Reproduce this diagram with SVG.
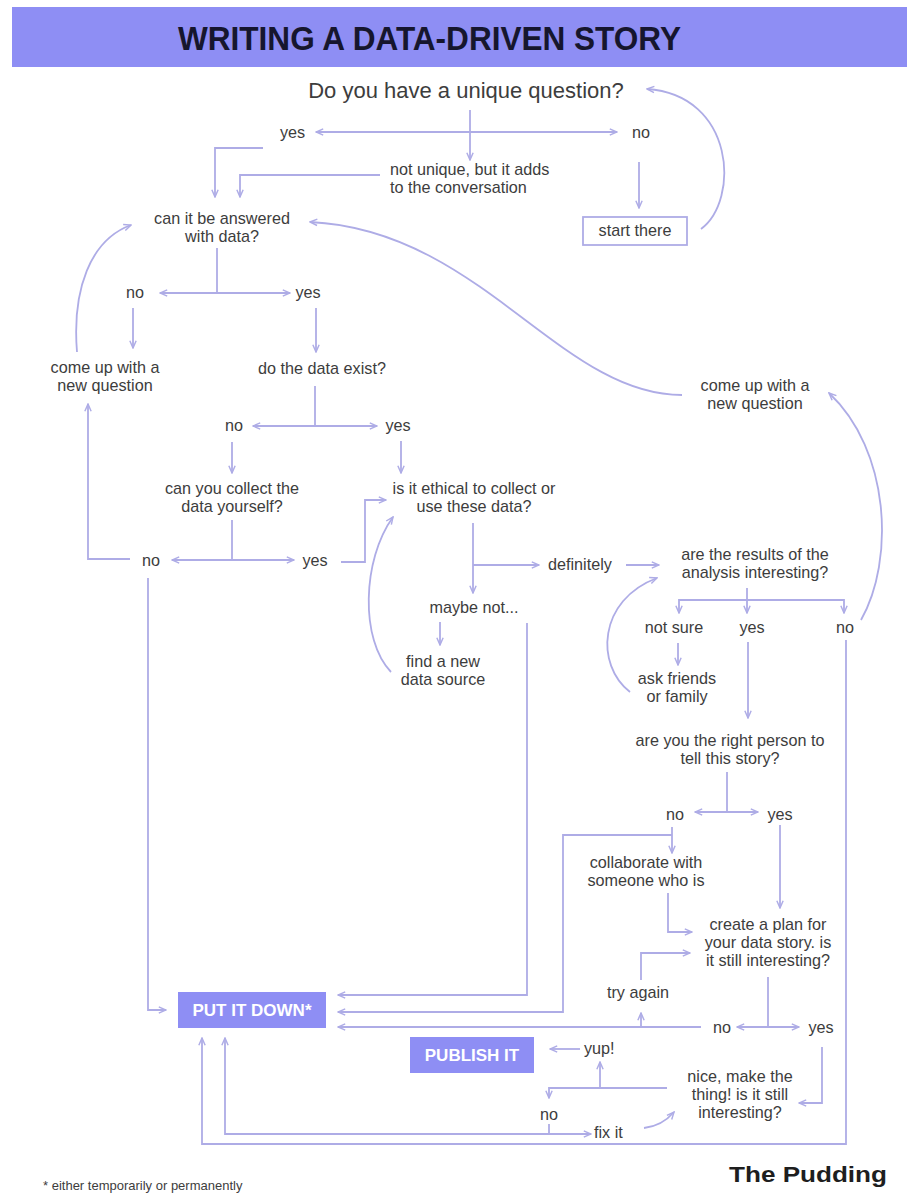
<svg xmlns="http://www.w3.org/2000/svg" width="907" height="1195" viewBox="0 0 907 1195">
<style>
.t{font-family:"Liberation Sans",Arial,sans-serif;font-size:16.2px;fill:#3d3d3d}
.m{text-anchor:middle}
.c path{fill:none;stroke:#aeace6;stroke-width:1.8}
.a{marker-end:url(#ah)}
.b{marker-start:url(#ah);marker-end:url(#ah)}
.box{fill:#8e8ef4}
.bt{font-family:"Liberation Sans",Arial,sans-serif;font-weight:bold;font-size:17px;fill:#ffffff;text-anchor:middle}
</style>
<defs>
<marker id="ah" viewBox="0 0 10 10" refX="9" refY="5" markerWidth="9" markerHeight="9" markerUnits="userSpaceOnUse" orient="auto-start-reverse">
<path d="M1,1.5 L9,5 L1,8.5" fill="none" stroke="#aeace6" stroke-width="1.6"/>
</marker>
</defs>
<rect width="907" height="1195" fill="#ffffff"/>
<g id="header">
<rect x="12" y="7" width="895" height="60" fill="#8e8ef4"/>
<text x="178" y="50" font-family="Liberation Sans,Arial,sans-serif" font-weight="bold" font-size="33" fill="#16162e" textLength="503" lengthAdjust="spacingAndGlyphs">WRITING A DATA-DRIVEN STORY</text>
</g>
<g class="c" id="connectors">
<path class="a" d="M470,110 V160"/>
<path class="b" d="M316,132 H617"/>
<path class="a" d="M639,162 V208"/>
<path class="a" d="M263,148 H215 V197"/>
<path class="a" d="M380,175 H240 V197"/>
<path class="a" d="M701,229 C740,200 735,95 647,89"/>
<path d="M217,248 V293"/>
<path class="b" d="M160,293 H290"/>
<path class="a" d="M133,308 V348"/>
<path class="a" d="M316,308 V352"/>
<path class="a" d="M77,352 C72,290 90,240 131,225"/>
<path d="M315,386 V426"/>
<path class="b" d="M253,426 H377"/>
<path class="a" d="M232,442 V473"/>
<path class="a" d="M401,441 V473"/>
<path d="M232,520 V560"/>
<path class="b" d="M172,560 H294"/>
<path class="a" d="M130,559 H88 V404"/>
<path class="a" d="M148,578 V1010 H166"/>
<path class="a" d="M341,562 H365 V500 H386"/>
<path class="a" d="M391,672 C360,640 362,560 393,517"/>
<path class="a" d="M473,523 V593"/>
<path class="a" d="M473,565 H539"/>
<path class="a" d="M440,622 V645"/>
<path class="a" d="M527,623 V995 H338"/>
<path class="a" d="M626,565 H659"/>
<path class="a" d="M682,395 C560,395 480,230 310,222"/>
<path class="a" d="M630,692 C595,665 598,600 657,578"/>
<path class="a" d="M747,588 V613"/>
<path class="b" d="M679,613 V600 H844 V613"/>
<path class="a" d="M678,643 V665"/>
<path class="a" d="M748,642 V718"/>
<path class="a" d="M861,620 C895,560 890,450 829,393"/>
<path class="a" d="M846,640 V1144 H202 V1038"/>
<path d="M727,772 V812"/>
<path class="b" d="M695,812 H758"/>
<path class="a" d="M672,827 V853"/>
<path class="a" d="M672,835 H563 V1012 H338"/>
<path class="a" d="M780,825 V908"/>
<path class="a" d="M668,893 V932 H692"/>
<path class="a" d="M641,980 V953 H690"/>
<path class="a" d="M641,1027 V1013"/>
<path d="M768,977 V1027"/>
<path class="b" d="M737,1027 H799"/>
<path class="a" d="M701,1027 H338"/>
<path class="a" d="M822,1047 V1103 H799"/>
<path class="a" d="M667,1088 H549 V1098"/>
<path class="a" d="M600,1088 V1062"/>
<path class="a" d="M580,1049 H550"/>
<path class="b" d="M225,1038 V1134 H591"/>
<path d="M549,1124 V1134"/>
<path class="a" d="M644,1128 Q662,1126 674,1112"/>
</g>
<g id="q-unique"><text class="t m" x="466" y="98" style="font-size:22px">Do you have a unique question?</text></g>
<g id="q-yes"><text class="t" x="280" y="138">yes</text></g>
<g id="q-no"><text class="t" x="632" y="138">no</text></g>
<g id="not-unique"><text class="t" x="390" y="175">not unique, but it adds</text><text class="t" x="390" y="193">to the conversation</text></g>
<g id="start-there"><rect x="583" y="217" width="104" height="28" fill="#ffffff" stroke="#aeace6" stroke-width="1.8"/><text class="t m" x="635" y="236">start there</text></g>
<g id="answered"><text class="t m" x="222" y="224">can it be answered</text><text class="t m" x="222" y="242">with data?</text></g>
<g id="ans-no"><text class="t m" x="135" y="298">no</text></g>
<g id="ans-yes"><text class="t m" x="308" y="298">yes</text></g>
<g id="new-q-left"><text class="t m" x="105" y="373">come up with a</text><text class="t m" x="105" y="391">new question</text></g>
<g id="exist"><text class="t m" x="322" y="374">do the data exist?</text></g>
<g id="exist-no"><text class="t m" x="234" y="431">no</text></g>
<g id="exist-yes"><text class="t m" x="398" y="431">yes</text></g>
<g id="collect"><text class="t m" x="232" y="494">can you collect the</text><text class="t m" x="232" y="512">data yourself?</text></g>
<g id="ethical"><text class="t m" x="474" y="494">is it ethical to collect or</text><text class="t m" x="474" y="512">use these data?</text></g>
<g id="collect-no"><text class="t m" x="151" y="566">no</text></g>
<g id="collect-yes"><text class="t m" x="315" y="566">yes</text></g>
<g id="definitely"><text class="t" x="548" y="570">definitely</text></g>
<g id="maybe-not"><text class="t m" x="474" y="613">maybe not...</text></g>
<g id="new-source"><text class="t m" x="443" y="667">find a new</text><text class="t m" x="443" y="685">data source</text></g>
<g id="new-q-right"><text class="t m" x="755" y="391">come up with a</text><text class="t m" x="755" y="409">new question</text></g>
<g id="results"><text class="t m" x="755" y="560">are the results of the</text><text class="t m" x="755" y="578">analysis interesting?</text></g>
<g id="res-not-sure"><text class="t m" x="674" y="633">not sure</text></g>
<g id="res-yes"><text class="t m" x="752" y="633">yes</text></g>
<g id="res-no"><text class="t m" x="845" y="633">no</text></g>
<g id="ask-friends"><text class="t m" x="677" y="684">ask friends</text><text class="t m" x="677" y="702">or family</text></g>
<g id="right-person"><text class="t m" x="730" y="746">are you the right person to</text><text class="t m" x="730" y="764">tell this story?</text></g>
<g id="person-no"><text class="t m" x="675" y="820">no</text></g>
<g id="person-yes"><text class="t m" x="780" y="820">yes</text></g>
<g id="collaborate"><text class="t m" x="646" y="868">collaborate with</text><text class="t m" x="646" y="886">someone who is</text></g>
<g id="plan"><text class="t m" x="768" y="930">create a plan for</text><text class="t m" x="768" y="948">your data story. is</text><text class="t m" x="768" y="966">it still interesting?</text></g>
<g id="try-again"><text class="t m" x="638" y="998">try again</text></g>
<g id="plan-no"><text class="t m" x="722" y="1033">no</text></g>
<g id="plan-yes"><text class="t m" x="821" y="1033">yes</text></g>
<g id="put-it-down"><rect class="box" x="178" y="992" width="148" height="36"/><text class="bt" x="252" y="1016">PUT IT DOWN*</text></g>
<g id="publish"><rect class="box" x="410" y="1037" width="124" height="36"/><text class="bt" x="472" y="1061">PUBLISH IT</text></g>
<g id="yup"><text class="t" x="584" y="1054">yup!</text></g>
<g id="make-thing"><text class="t m" x="740" y="1082">nice, make the</text><text class="t m" x="740" y="1100">thing! is it still</text><text class="t m" x="740" y="1118">interesting?</text></g>
<g id="thing-no"><text class="t m" x="549" y="1120">no</text></g>
<g id="fix-it"><text class="t" x="594" y="1138">fix it</text></g>
<g id="footnote"><text class="t" x="43" y="1190" style="font-size:13px">* either temporarily or permanently</text></g>
<g id="brand"><text x="729" y="1182" font-family="Liberation Sans,Arial,sans-serif" font-weight="bold" font-size="22" fill="#1e1e1e" textLength="158" lengthAdjust="spacingAndGlyphs">The Pudding</text></g>
</svg>
